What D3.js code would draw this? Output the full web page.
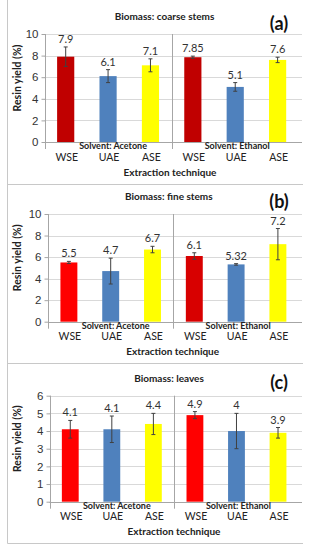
<!DOCTYPE html>
<html>
<head>
<meta charset="utf-8">
<title>Resin yield</title>
<style>
  body { margin: 0; background: #fff; }
  svg { font-family: Lato, "Liberation Sans", sans-serif; }
  .grid line { stroke: #d9d9d9; }
  .axis path { display: none; }
  .axis line { stroke: #a6a6a6; }
  .axis text { fill: #333; font-size: 11.5px; }
</style>
<script src="https://d3js.org/d3.v7.min.js"></script>
</head>
<body>
<div id="chart"></div>
<script>
// data
var categories = ["WSE", "UAE", "ASE", "WSE", "UAE", "ASE"];
var solvents = ["Solvent: Acetone", "Solvent: Ethanol"];
var panelTitles = ["Biomass: coarse stems", "Biomass: fine stems", "Biomass: leaves"];
var panelTags = ["(a)", "(b)", "(c)"];

var coarseValues = [7.9, 6.1, 7.1, 7.85, 5.1, 7.6];
var coarseErrors = [0.9, 0.6, 0.6, 0.1, 0.4, 0.25];
var fineValues = [5.5, 4.7, 6.7, 6.1, 5.32, 7.2];
var fineErrors = [0.1, 1.2, 0.3, 0.3, 0.07, 1.45];
var leavesValues = [4.1, 4.1, 4.4, 4.9, 4, 3.9];
var leavesErrors = [0.5, 0.75, 0.6, 0.2, 1.0, 0.3];

var coarseTicks = [0, 2, 4, 6, 8, 10];
var fineTicks = [0, 2, 4, 6, 8, 10];
var leavesTicks = [0, 1, 2, 3, 4, 5, 6];

var coarseColors = ["#c00000", "#4f81bd", "#ffff00", "#c00000", "#4f81bd", "#ffff00"];
var fineColors = ["#ff0000", "#4f81bd", "#ffff00", "#d80000", "#4f81bd", "#ffff00"];
var leavesColors = ["#ff0000", "#4f81bd", "#ffff00", "#ff0000", "#4f81bd", "#ffff00"];

var xTitle = "Extraction technique";
var yTitle = "Resin yield (%)";

// layout of the three panels
var panels = [
  { values: coarseValues, errors: coarseErrors, ticks: coarseTicks, colors: coarseColors,
    left: 44.5, top: 34, bottom: 142, titleX: 164.5, tagY: 30, xTitleX: 170 },
  { values: fineValues, errors: fineErrors, ticks: fineTicks, colors: fineColors,
    left: 48, top: 214, bottom: 321.7, titleX: 168.8, tagY: 208, xTitleX: 172.7 },
  { values: leavesValues, errors: leavesErrors, ticks: leavesTicks, colors: leavesColors,
    left: 49.5, top: 395.7, bottom: 501.7, titleX: 169, tagY: 389, xTitleX: 174 }
];
var right = 298.8;

var svg = d3.select("#chart").append("svg")
  .attr("width", 309)
  .attr("height", 550);

// panel frames
var frame = svg.append("g").attr("stroke", "#c8c8c8").attr("fill", "none");
frame.append("line").attr("x1", 7.5).attr("x2", 7.5).attr("y1", 0).attr("y2", 543.5);
[184.5, 363.5, 543.5].forEach(function(y) {
  frame.append("line").attr("x1", 7.5).attr("x2", 303).attr("y1", y).attr("y2", y);
});

panels.forEach(function(p, pi) {
  var g = svg.append("g");
  var idx = d3.range(categories.length);

  var x = d3.scaleBand()
    .domain(idx)
    .range([p.left, right])
    .paddingInner(0.595)
    .paddingOuter(0.2975);

  var y = d3.scaleLinear()
    .domain([0, d3.max(p.ticks)])
    .range([p.bottom, p.top]);

  // gridlines
  g.append("g").attr("class", "grid")
    .selectAll("line")
    .data(p.ticks.slice(1))
    .enter().append("line")
    .attr("x1", p.left).attr("x2", 302)
    .attr("y1", d => Math.round(y(d)) + 0.5)
    .attr("y2", d => Math.round(y(d)) + 0.5);

  // base line and group separators
  g.append("line")
    .attr("x1", p.left).attr("x2", 302)
    .attr("y1", Math.round(y(0)) + 0.5).attr("y2", Math.round(y(0)) + 0.5)
    .attr("stroke", "#a6a6a6");
  var sepX = [p.left, (x(2) + x.bandwidth() + x(3)) / 2];
  g.selectAll(".sep")
    .data(sepX)
    .enter().append("line")
    .attr("x1", d => Math.round(d) + 0.5).attr("x2", d => Math.round(d) + 0.5)
    .attr("y1", p.top).attr("y2", p.bottom + 7)
    .attr("stroke", "#a6a6a6");

  // y axis
  g.append("g").attr("class", "axis")
    .attr("transform", "translate(" + (Math.round(p.left) + 0.5) + ",0)")
    .call(d3.axisLeft(y).tickValues(p.ticks).tickFormat(d3.format("d"))
      .tickSize(4).tickPadding(3).tickSizeOuter(0));

  // bars
  g.selectAll(".bar")
    .data(idx)
    .enter().append("rect")
    .attr("x", i => x(i))
    .attr("width", x.bandwidth())
    .attr("y", i => y(p.values[i]))
    .attr("height", i => y(0) - y(p.values[i]))
    .attr("fill", i => p.colors[i]);

  // error bars
  var eb = g.selectAll(".err")
    .data(idx)
    .enter().append("g")
    .attr("stroke", "#404040")
    .attr("stroke-width", 1);
  eb.append("line")
    .attr("x1", i => x(i) + x.bandwidth() / 2).attr("x2", i => x(i) + x.bandwidth() / 2)
    .attr("y1", i => y(p.values[i] + p.errors[i]))
    .attr("y2", i => y(p.values[i] - p.errors[i]));
  [1, -1].forEach(function(s) {
    eb.append("line")
      .attr("x1", i => x(i) + x.bandwidth() / 2 - 2)
      .attr("x2", i => x(i) + x.bandwidth() / 2 + 2)
      .attr("y1", i => y(p.values[i] + s * p.errors[i]))
      .attr("y2", i => y(p.values[i] + s * p.errors[i]));
  });

  // value labels
  g.selectAll(".val")
    .data(idx)
    .enter().append("text")
    .attr("x", i => x(i) + x.bandwidth() / 2)
    .attr("y", i => y(p.values[i] + p.errors[i]) - 4)
    .attr("text-anchor", "middle")
    .attr("font-size", "11px")
    .attr("fill", "#333")
    .text(i => String(p.values[i]));

  // category labels
  g.selectAll(".cat")
    .data(idx)
    .enter().append("text")
    .attr("x", i => x(i) + x.bandwidth() / 2 + 1)
    .attr("y", p.bottom + 18.5)
    .attr("text-anchor", "middle")
    .attr("font-size", "10.5px")
    .attr("fill", "#222")
    .text(i => categories[i]);

  // solvent labels
  g.selectAll(".solv")
    .data(solvents)
    .enter().append("text")
    .attr("x", (d, k) => (x(k * 3) + x(k * 3 + 2) + x.bandwidth()) / 2 + (k === 0 ? 5 : 2))
    .attr("y", p.bottom + 7)
    .attr("text-anchor", "middle")
    .attr("font-size", "9px")
    .attr("font-weight", "bold")
    .attr("fill", "#222")
    .text(d => d);

  // titles
  g.append("text")
    .attr("x", p.titleX).attr("y", p.top - 14)
    .attr("text-anchor", "middle")
    .attr("font-size", "10px").attr("font-weight", "bold").attr("fill", "#222")
    .text(panelTitles[pi]);
  g.append("text")
    .attr("x", 279).attr("y", p.tagY)
    .attr("text-anchor", "middle")
    .attr("font-size", "18px").attr("font-weight", "bold").attr("fill", "#111")
    .text(panelTags[pi]);
  g.append("text")
    .attr("x", p.xTitleX).attr("y", p.bottom + 33.5)
    .attr("text-anchor", "middle")
    .attr("font-size", "10px").attr("font-weight", "bold").attr("fill", "#222")
    .text(xTitle);
  g.append("text")
    .attr("transform", "translate(21," + ((p.top + p.bottom) / 2 - 10) + ") rotate(-90)")
    .attr("text-anchor", "middle")
    .attr("font-size", "10.5px").attr("font-weight", "bold").attr("fill", "#222")
    .text(yTitle);
});
</script>
</body>
</html>
